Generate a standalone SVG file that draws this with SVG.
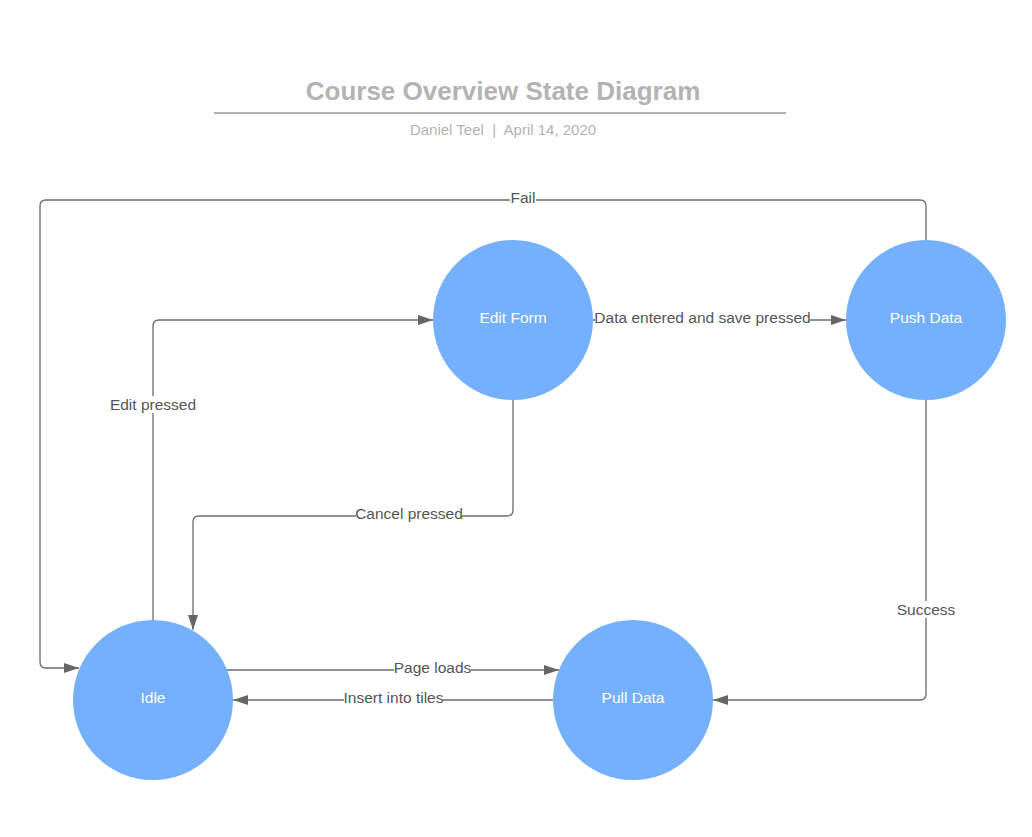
<svg xmlns="http://www.w3.org/2000/svg" width="1032" height="837" viewBox="0 0 1032 837">
<style>
.node{fill:#74b0fe}
.nt{font-family:"Liberation Sans",Arial,sans-serif;font-size:15.5px;fill:#fff;text-anchor:middle}
.c{fill:none;stroke:#6b6b6b;stroke-width:1.3}
.lb{font-family:"Liberation Sans",Arial,sans-serif;font-size:15.5px;fill:#555;text-anchor:middle}
.bg{fill:#fff}
</style>
<defs>
<marker id="ah" viewBox="0 0 15 10" refX="15" refY="5" markerWidth="15" markerHeight="10" markerUnits="userSpaceOnUse" orient="auto">
<path d="M0,0 L15,5 L0,10 z" fill="#666"/>
</marker>
</defs>
<rect width="1032" height="837" fill="#fff"/>
<g id="title">
<text x="503" y="100" font-family="Liberation Sans,Arial,sans-serif" font-size="26" font-weight="bold" fill="#b3b3b3" text-anchor="middle">Course Overview State Diagram</text>
<line x1="214" y1="113" x2="786" y2="113" stroke="#b3b3b3" stroke-width="2"/>
<text x="503" y="135" font-family="Liberation Sans,Arial,sans-serif" font-size="15" fill="#b3b3b3" text-anchor="middle" xml:space="preserve">Daniel Teel  |  April 14, 2020</text>
</g>
<g id="connectors">
<path class="c" d="M926,240 V206 Q926,200 920,200 H46 Q40,200 40,206 V662 Q40,668 46,668 H79" marker-end="url(#ah)"/>
<rect class="bg" x="510" y="189" width="26" height="17"/>
<text class="lb" x="523" y="203">Fail</text>
<path class="c" d="M153,620 V326 Q153,320 159,320 H433" marker-end="url(#ah)"/>
<rect class="bg" x="111" y="396" width="85" height="17"/>
<text class="lb" x="153" y="410">Edit pressed</text>
<path class="c" d="M593,320 H846" marker-end="url(#ah)"/>
<rect class="bg" x="595" y="310" width="215" height="17"/>
<text class="lb" x="702.5" y="323">Data entered and save pressed</text>
<path class="c" d="M513,400 V510 Q513,516 507,516 H199 Q193,516 193,522 V630" marker-end="url(#ah)"/>
<rect class="bg" x="356" y="505" width="106" height="17"/>
<text class="lb" x="409" y="519">Cancel pressed</text>
<path class="c" d="M227,670 H559" marker-end="url(#ah)"/>
<rect class="bg" x="394" y="660" width="77" height="17"/>
<text class="lb" x="432.5" y="673">Page loads</text>
<path class="c" d="M553,700 H233" marker-end="url(#ah)"/>
<rect class="bg" x="344" y="690" width="99" height="17"/>
<text class="lb" x="393.5" y="703">Insert into tiles</text>
<path class="c" d="M926,400 V694 Q926,700 920,700 H713" marker-end="url(#ah)"/>
<rect class="bg" x="897" y="601" width="58" height="17"/>
<text class="lb" x="926" y="615">Success</text>
</g>
<g id="edit-form"><circle class="node" cx="513" cy="320" r="80"/><text class="nt" x="513" y="323">Edit Form</text></g>
<g id="push-data"><circle class="node" cx="926" cy="320" r="80"/><text class="nt" x="926" y="323">Push Data</text></g>
<g id="idle"><circle class="node" cx="153" cy="700" r="80"/><text class="nt" x="153" y="703">Idle</text></g>
<g id="pull-data"><circle class="node" cx="633" cy="700" r="80"/><text class="nt" x="633" y="703">Pull Data</text></g>
</svg>
